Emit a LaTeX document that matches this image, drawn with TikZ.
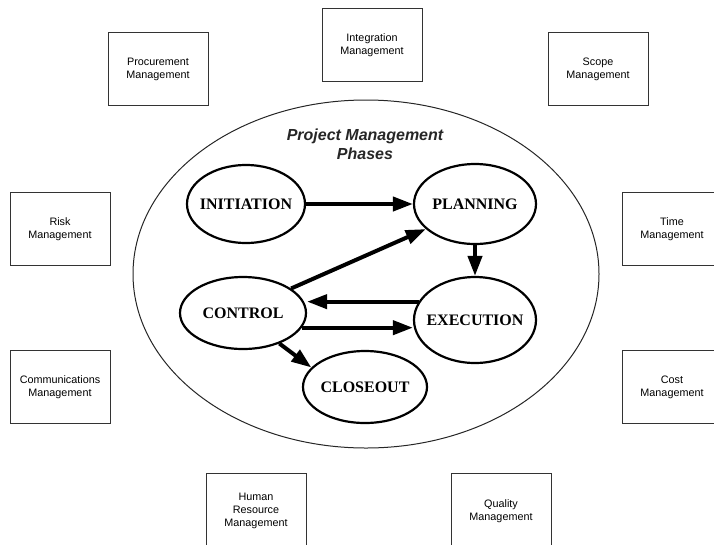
\documentclass[tikz,border=0pt]{standalone}
\usepackage{fontspec}
\setmainfont{Liberation Serif}
\setsansfont{Liberation Sans}
\usetikzlibrary{shapes.geometric}
\usetikzlibrary{arrows.meta}

\tikzset{
  area/.style={rectangle, draw=black!80, line width=0.9pt, minimum width=100pt, minimum height=73pt,
    align=center, inner sep=0pt, font=\sffamily\fontsize{10.8}{13}\selectfont},
  phase/.style={ellipse, draw, line width=2.2pt, inner xsep=-20pt, inner ysep=0pt,
    font=\bfseries\fontsize{16}{18}\selectfont},
  flow/.style={line width=4pt, -{Triangle[length=20pt,width=14pt]}},
}

\begin{document}
\begin{tikzpicture}[x=1pt,y=-1pt]
\useasboundingbox (0,0) rectangle (714,544);

% knowledge areas
\node[area] (procurement) at (158,69) {Procurement\\Management};
\node[area] (integration) at (372,45) {Integration\\Management};
\node[area] (scope) at (598,69) {Scope\\Management};
\node[area] (risk) at (60,229) {Risk\\Management};
\node[area] (time) at (672,229) {Time\\Management};
\node[area] (comms) at (60,387) {Communications\\Management};
\node[area] (cost) at (672,387) {Cost\\Management};
\node[area, minimum height=76pt] (human) at (256,511) {Human\\Resource\\Management};
\node[area, minimum height=76pt] (quality) at (501,511) {Quality\\Management};

% phases
\node[ellipse, draw=black!85, line width=1pt, minimum width=466pt, minimum height=348pt] (phases) at (366,274) {};
\node[font=\sffamily\bfseries\itshape\fontsize{16}{19}\selectfont, align=center, text=black!85] (title) at (365,144) {Project Management\\Phases};

\node[phase, minimum width=118pt, minimum height=78pt] (initiation) at (246,204) {INITIATION};
\node[phase, minimum width=122pt, minimum height=80pt] (planning) at (475,204) {PLANNING};
\node[phase, minimum width=126pt, minimum height=72pt] (control) at (243,313) {CONTROL};
\node[phase, minimum width=122pt, minimum height=86pt] (execution) at (475,320) {EXECUTION};
\node[phase, minimum width=124pt, minimum height=72pt] (closeout) at (365,387) {CLOSEOUT};

\draw[flow] (initiation) -- (planning);
\draw[flow] (control.27) -- (planning.207);
\draw[flow] (planning) -- (execution);
\draw[flow] (execution.162) -- (control.east |- execution.162);
\draw[flow] (control.346) -- (execution.west |- control.346);
\draw[flow] (control.-40) -- (closeout.160);
\end{tikzpicture}
\end{document}
